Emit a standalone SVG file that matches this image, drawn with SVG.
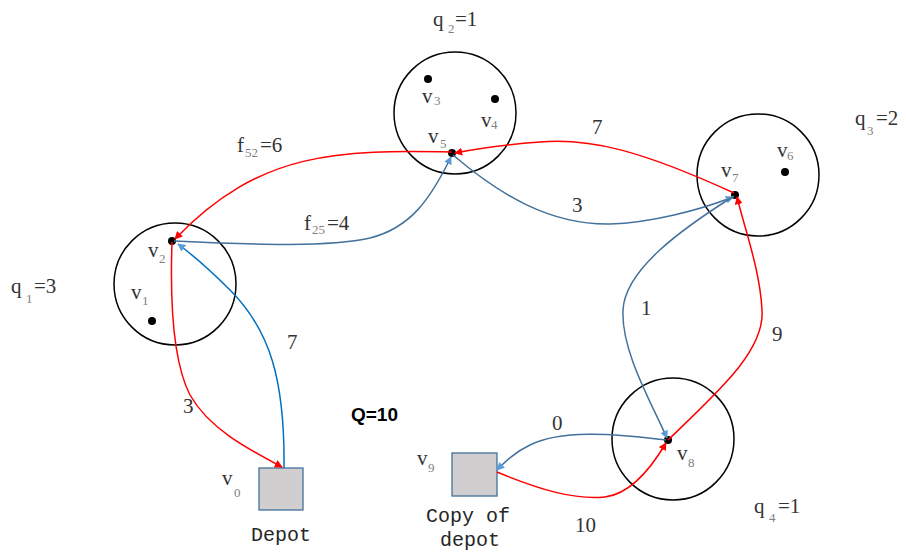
<svg xmlns="http://www.w3.org/2000/svg" width="906" height="556" viewBox="0 0 906 556">
<defs>
<style>
.cl{fill:none;stroke:#000;stroke-width:1.5}
.dot{fill:#000}
.t{font-family:"Liberation Serif","DejaVu Serif",serif;font-size:21px;fill:#333}
.s{font-family:"Liberation Serif","DejaVu Serif",serif;font-size:13px;fill:#7f7f7f}
.m{font-family:"Liberation Mono","DejaVu Sans Mono",monospace;font-size:20px;fill:#262626}
.q{font-family:"Liberation Sans","DejaVu Sans",sans-serif;font-size:19px;font-weight:bold;fill:#000}
.box{fill:#d0cece;stroke:#41719c;stroke-width:1.3}
.r{fill:none;stroke:#ff0000;stroke-width:1.5;marker-end:url(#ar)}
.b{fill:none;stroke:#41719c;stroke-width:1.5;marker-end:url(#ab)}
.b2{fill:none;stroke:#0070c0;stroke-width:1.5;marker-end:url(#ab)}
</style>
<marker id="ar" viewBox="0 0 10 10" refX="9" refY="5" markerWidth="8" markerHeight="8" markerUnits="userSpaceOnUse" orient="auto"><path d="M0,0 L10,5 L0,10 z" fill="#ff0000"/></marker>
<marker id="ab" viewBox="0 0 10 10" refX="9" refY="5" markerWidth="8" markerHeight="8" markerUnits="userSpaceOnUse" orient="auto"><path d="M0,0 L10,5 L0,10 z" fill="#5b9bd5"/></marker>
</defs>
<rect width="906" height="556" fill="#fff"/>

<g id="cluster1">
<circle class="cl" cx="175" cy="284" r="61"/>
<circle class="dot" cx="152" cy="321" r="4"/>
<text class="t" x="131" y="299">v</text><text class="s" x="142" y="305">1</text>
<circle class="dot" cx="172" cy="241" r="4"/>
<text class="t" x="148" y="257">v</text><text class="s" x="159" y="263">2</text>
<text class="t" x="11" y="293">q</text><text class="s" x="26" y="303">1</text><text class="t" x="34" y="293">=3</text>
</g>

<g id="cluster2">
<circle class="cl" cx="455" cy="113" r="61"/>
<circle class="dot" cx="428" cy="79" r="4"/>
<text class="t" x="422" y="103">v</text><text class="s" x="434" y="105">3</text>
<circle class="dot" cx="495" cy="99" r="4"/>
<text class="t" x="481" y="127">v</text><text class="s" x="491" y="129">4</text>
<circle class="dot" cx="452" cy="153" r="4"/>
<text class="t" x="428" y="143">v</text><text class="s" x="440" y="148">5</text>
<text class="t" x="433" y="26">q</text><text class="s" x="448" y="33">2</text><text class="t" x="455" y="26">=1</text>
</g>

<g id="cluster3">
<circle class="cl" cx="758" cy="175" r="61"/>
<circle class="dot" cx="785" cy="172" r="4"/>
<text class="t" x="777" y="157">v</text><text class="s" x="787" y="160">6</text>
<circle class="dot" cx="735" cy="195" r="4"/>
<text class="t" x="721" y="177">v</text><text class="s" x="732" y="182">7</text>
<text class="t" x="855" y="125">q</text><text class="s" x="867" y="135">3</text><text class="t" x="876" y="125">=2</text>
</g>

<g id="cluster4">
<circle class="cl" cx="673" cy="439" r="61"/>
<circle class="dot" cx="668" cy="440" r="4"/>
<text class="t" x="677" y="460">v</text><text class="s" x="688" y="467">8</text>
<text class="t" x="754" y="513">q</text><text class="s" x="769" y="522">4</text><text class="t" x="778" y="513">=1</text>
</g>

<g id="depot">
<rect class="box" x="259" y="468" width="44" height="42"/>
<text class="t" x="222" y="485">v</text><text class="s" x="234" y="497">0</text>
<text class="m" x="251" y="541">Depot</text>
</g>

<g id="depot-copy">
<rect class="box" x="452" y="453" width="45" height="43"/>
<text class="t" x="417" y="465">v</text><text class="s" x="428" y="472">9</text>
<text class="m" x="426" y="522">Copy of</text>
<text class="m" x="440" y="546">depot</text>
</g>

<g id="capacity">
<text class="q" x="351" y="421">Q=10</text>
</g>

<g id="connectors">
<path class="r" d="M452,152 C340,150 260,150 175,239"/>
<path class="b" d="M174,241 C260,245 330,247 370,238 C410,228 430,200 451,157"/>
<path class="r" d="M734,193 C640,150 590,138 540,142 C500,145 470,150 455,153"/>
<path class="b" d="M453,155 C500,195 550,225 610,224 C650,223 700,210 733,197"/>
<path class="b" d="M734,196 C680,230 625,270 623,310 C621,350 650,400 667,438"/>
<path class="r" d="M668,440 C720,390 765,350 762,310 C760,270 745,230 737,197"/>
<path class="r" d="M172,242 C170,300 172,360 190,395 C210,430 250,450 282,467"/>
<path class="b2" d="M284,468 C285,380 270,330 230,290 C205,265 190,253 178,244"/>
<path class="b" d="M666,440 C610,433 560,430 530,445 C515,452 505,462 497,470"/>
<path class="r" d="M497,472 C540,490 575,500 605,497 C630,494 650,470 666,443"/>
<text class="t" x="237" y="152">f</text><text class="s" x="245" y="157">52</text><text class="t" x="260" y="152">=6</text>
<text class="t" x="304" y="230">f</text><text class="s" x="312" y="234">25</text><text class="t" x="327" y="230">=4</text>
<text class="t" x="592" y="134">7</text>
<text class="t" x="572" y="212">3</text>
<text class="t" x="641" y="315">1</text>
<text class="t" x="772" y="341">9</text>
<text class="t" x="287" y="349">7</text>
<text class="t" x="183" y="413">3</text>
<text class="t" x="552" y="430">0</text>
<text class="t" x="575" y="532">10</text>
</g>
</svg>
